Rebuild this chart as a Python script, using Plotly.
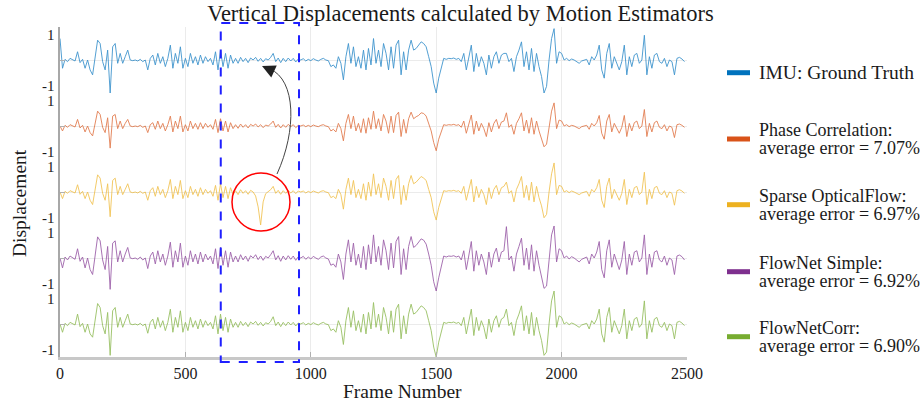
import plotly.graph_objects as go
from plotly.subplots import make_subplots

FRAMES = list(range(0, 2500, 10))

IMU = [0.65, -0.25, 0.02, -0.05, 0.05, 0.0, -0.03, 0.25, -0.08, 0.02,
       -0.25, 0.0, -0.3, -0.45, 0.05, 0.6, 0.5, -0.05, -0.3, 0.3,
       -1.0, 0.4, 0.5, -0.1, 0.2, -0.1, 0.1, 0.3, 0.0, -0.02,
       0.0, -0.03, 0.02, -0.05, 0.0, -0.3, 0.05, 0.15, -0.15, 0.2,
       -0.1, 0.1, -0.2, 0.05, 0.45, -0.25, 0.2, -0.1, 0.4, -0.25,
       0.05, -0.2, 0.2, -0.1, 0.1, -0.15, 0.15, -0.1, 0.1, -0.05,
       0.05, -0.15, 0.25, -0.3, 0.3, -0.2, 0.2, -0.25, 0.15, -0.1,
       0.05, -0.1, 0.08, -0.05, 0.05, -0.08, 0.06, 0.0, 0.08, -0.04,
       0.05, -0.06, 0.04, 0.0, 0.08, 0.2, -0.05, 0.06, -0.08, 0.05,
       -0.05, 0.06, -0.03, 0.05, -0.06, 0.03, 0.0, 0.04, -0.03, 0.02,
       -0.02, 0.04, 0.0, -0.03, 0.02, 0.05, 0.0, -0.02, -0.2, -0.15,
       -0.25, 0.1, -0.1, -0.6, 0.1, 0.5, -0.1, 0.4, -0.2, 0.1,
       -0.25, 0.3, -0.3, 0.35, -0.15, 0.65, -0.1, 0.3, -0.2, 0.5,
       0.2, -0.3, 0.4, -0.25, 0.45, 0.6, -0.45, 0.25, -0.3, 0.3,
       0.6, 0.3, 0.35, 0.45, 0.55, 0.5, 0.4, 0.1, -0.2, -0.7,
       -1.0, -0.55, -0.2, 0.05, 0.02, 0.05, 0.04, 0.06, 0.02, 0.05,
       -0.05, 0.2, -0.3, 0.1, 0.45, -0.35, 0.2, -0.2, 0.1, -0.1,
       -0.45, 0.15, -0.25, 0.1, 0.25, -0.1, 0.15, 0.2, 0.2, -0.05,
       0.05, -0.35, 0.1, 0.3, 0.55, -0.2, 0.25, -0.3, 0.35, -0.35,
       0.2, -0.2, -0.5, -1.0, -0.8, 0.0, 0.65, 0.95, -0.1, 0.25,
       0.2, 0.0, 0.05, -0.02, 0.03, 0.0, -0.05, -0.1, -0.03, 0.0,
       0.02, -0.15, 0.1, 0.0, 0.15, 0.45, -0.3, -0.55, 0.2, 0.5,
       -0.25, 0.1, -0.1, -0.3, -0.05, 0.45, -0.45, 0.1, -0.2, 0.15,
       0.2, -0.1, 0.0, 0.75, -0.45, 0.1, -0.25, 0.15, 0.2, -0.05,
       -0.1, 0.05, -0.2, 0.0, -0.05, -0.45, 0.05, 0.08, 0.03, -0.05]

PHASE_CORR = [0.0, -0.15, 0.02, -0.04, 0.04, 0.0, -0.03, 0.2, -0.06, 0.02,
              -0.18, 0.0, -0.2, -0.3, 0.03, 0.45, 0.35, -0.04, -0.2, 0.25,
              -0.67, 0.3, 0.35, -0.08, 0.15, -0.08, 0.08, 0.2, 0.0, -0.02,
              0.0, -0.02, 0.02, -0.04, 0.0, -0.2, 0.04, 0.1, -0.1, 0.15,
              -0.08, 0.08, -0.15, 0.04, 0.3, -0.18, 0.15, -0.08, 0.3, -0.18,
              0.04, -0.15, 0.15, -0.08, 0.08, -0.1, 0.1, -0.08, 0.08, -0.04,
              0.04, -0.1, 0.2, -0.2, 0.22, -0.15, 0.15, -0.18, 0.1, -0.08,
              0.04, -0.07, 0.06, -0.04, 0.04, -0.06, 0.05, 0.0, 0.06, -0.03,
              0.04, -0.05, 0.03, 0.0, 0.06, 0.15, -0.04, 0.05, -0.06, 0.04,
              -0.04, 0.05, -0.02, 0.04, -0.05, 0.02, 0.0, 0.03, -0.02, 0.02,
              -0.02, 0.03, 0.0, -0.02, 0.02, 0.04, 0.0, -0.02, -0.15, -0.1,
              -0.18, 0.08, -0.08, -0.45, 0.08, 0.35, -0.08, 0.3, -0.15, 0.08,
              -0.2, 0.22, -0.22, 0.25, -0.1, 0.45, -0.08, 0.22, -0.15, 0.35,
              0.15, -0.22, 0.3, -0.2, 0.32, 0.42, -0.32, 0.2, -0.22, 0.22,
              0.42, 0.22, 0.28, 0.32, 0.4, 0.38, 0.3, 0.08, -0.15, -0.5,
              -0.75, -0.4, -0.15, 0.04, 0.02, 0.04, 0.03, 0.05, 0.02, 0.04,
              -0.04, 0.15, -0.22, 0.08, 0.33, -0.25, 0.15, -0.15, 0.08, -0.08,
              -0.32, 0.1, -0.18, 0.08, 0.2, -0.08, 0.12, 0.15, 0.4, -0.04,
              0.04, -0.25, 0.08, 0.22, 0.4, -0.15, 0.18, -0.22, 0.25, -0.25,
              0.15, -0.15, -0.38, -0.63, -0.55, 0.0, 0.45, 0.7, -0.08, 0.18,
              0.15, 0.0, 0.04, -0.02, 0.02, 0.0, -0.04, -0.08, -0.02, 0.0,
              0.02, -0.1, 0.08, 0.0, 0.1, 0.32, -0.22, -0.4, 0.15, 0.35,
              -0.18, 0.08, -0.08, -0.22, -0.04, 0.32, -0.32, 0.08, -0.15, 0.1,
              0.15, -0.08, 0.0, 0.5, -0.32, 0.08, -0.18, 0.1, 0.15, -0.04,
              -0.08, 0.04, -0.15, 0.0, -0.04, -0.35, 0.04, 0.06, 0.02, -0.04]

SPARSE_OF = [0.0, -0.2, 0.02, -0.04, 0.04, 0.0, -0.03, 0.22, -0.07, 0.02,
             -0.2, 0.0, -0.25, -0.38, 0.04, 0.52, 0.42, -0.04, -0.25, 0.25,
             -0.75, 0.35, 0.42, -0.08, 0.17, -0.08, 0.08, 0.25, 0.0, -0.02,
             0.0, -0.03, 0.02, -0.04, 0.0, -0.25, 0.04, 0.13, -0.13, 0.17,
             -0.08, 0.08, -0.17, 0.04, 0.38, -0.2, 0.17, -0.08, 0.35, -0.2,
             0.04, -0.17, 0.17, -0.08, 0.08, -0.13, 0.13, -0.08, 0.08, -0.04,
             0.04, -0.13, 0.2, -0.25, 0.25, -0.17, 0.17, -0.2, 0.13, -0.08,
             0.04, -0.08, 0.07, -0.04, 0.04, -0.07, 0.05, 0.0, -0.12, -0.45,
             -1.0, -0.3, -0.05, 0.0, 0.07, 0.17, -0.04, 0.05, -0.07, 0.04,
             -0.04, 0.05, -0.03, 0.04, -0.05, 0.03, 0.0, 0.03, -0.03, 0.02,
             -0.02, 0.03, 0.0, -0.03, 0.02, 0.04, 0.0, -0.02, -0.17, -0.13,
             -0.2, 0.08, -0.08, -0.52, 0.08, 0.42, -0.08, 0.35, -0.17, 0.08,
             -0.2, 0.25, -0.25, 0.3, -0.13, 0.55, -0.08, 0.25, -0.17, 0.42,
             0.17, -0.25, 0.35, -0.2, 0.38, 0.5, -0.38, 0.2, -0.25, 0.25,
             0.5, 0.25, 0.3, 0.38, 0.47, 0.42, 0.35, 0.08, -0.17, -0.6,
             -0.85, -0.47, -0.17, 0.04, 0.02, 0.04, 0.03, 0.05, 0.02, 0.04,
             -0.04, 0.17, -0.25, 0.08, 0.38, -0.3, 0.17, -0.17, 0.08, -0.08,
             -0.38, 0.13, -0.2, 0.08, 0.2, -0.08, 0.13, 0.17, 0.3, -0.04,
             0.04, -0.3, 0.08, 0.25, 0.47, -0.17, 0.2, -0.25, 0.3, -0.3,
             0.17, -0.17, -0.42, -0.78, -0.68, 0.0, 0.55, 0.88, -0.08, 0.2,
             0.17, 0.0, 0.04, -0.02, 0.03, 0.0, -0.04, -0.08, -0.03, 0.0,
             0.02, -0.13, 0.08, 0.0, 0.13, 0.38, -0.25, -0.47, 0.17, 0.42,
             -0.2, 0.08, -0.08, -0.25, -0.04, 0.38, -0.38, 0.08, -0.17, 0.13,
             0.17, -0.08, 0.0, 0.6, -0.38, 0.08, -0.2, 0.13, 0.17, -0.04,
             -0.08, 0.04, -0.17, 0.0, -0.04, -0.4, 0.04, 0.07, 0.03, -0.04]

FLOWNET_S = [0.0, -0.3, 0.03, -0.06, 0.06, 0.0, -0.04, 0.28, -0.1, 0.03,
             -0.3, 0.0, -0.35, -0.5, 0.06, 0.64, 0.52, -0.06, -0.35, 0.35,
             -0.95, 0.45, 0.52, -0.12, 0.22, -0.12, 0.12, 0.32, 0.0, -0.02,
             0.0, -0.04, 0.03, -0.06, 0.0, -0.32, 0.06, 0.18, -0.18, 0.22,
             -0.12, 0.12, -0.22, 0.06, 0.48, -0.28, 0.22, -0.12, 0.45, -0.28,
             0.06, -0.22, 0.22, -0.12, 0.12, -0.18, 0.18, -0.12, 0.12, -0.06,
             0.06, -0.18, 0.28, -0.32, 0.32, -0.22, 0.22, -0.28, 0.18, -0.12,
             0.06, -0.12, 0.1, -0.06, 0.06, -0.1, 0.07, 0.0, 0.1, -0.05,
             0.06, -0.07, 0.05, 0.0, 0.1, 0.22, -0.06, 0.07, -0.1, 0.06,
             -0.06, 0.07, -0.04, 0.06, -0.07, 0.04, 0.0, 0.05, -0.04, 0.03,
             -0.03, 0.05, 0.0, -0.04, 0.03, 0.06, 0.0, -0.03, -0.22, -0.18,
             -0.28, 0.12, -0.12, -0.65, 0.12, 0.55, -0.12, 0.45, -0.22, 0.12,
             -0.3, 0.35, -0.35, 0.4, -0.18, 0.7, -0.12, 0.35, -0.22, 0.55,
             0.22, -0.35, 0.45, -0.3, 0.5, 0.65, -0.5, 0.28, -0.35, 0.35,
             0.65, 0.32, 0.38, 0.48, 0.58, 0.54, 0.42, 0.12, -0.22, -0.72,
             -1.0, -0.6, -0.22, 0.06, 0.03, 0.06, 0.05, 0.07, 0.03, 0.06,
             -0.06, 0.22, -0.35, 0.12, 0.5, -0.4, 0.22, -0.22, 0.12, -0.12,
             -0.5, 0.18, -0.28, 0.12, 0.3, -0.12, 0.18, 0.22, 0.95, -0.06,
             0.06, -0.4, 0.12, 0.35, 0.6, -0.22, 0.3, -0.35, 0.4, -0.4,
             0.22, -0.22, -0.55, -0.92, -0.85, 0.0, 0.7, 0.97, -0.12, 0.28,
             0.22, 0.0, 0.06, -0.03, 0.04, 0.0, -0.06, -0.12, -0.04, 0.0,
             0.03, -0.18, 0.12, 0.0, 0.18, 0.5, -0.35, -0.6, 0.22, 0.55,
             -0.28, 0.12, -0.12, -0.35, -0.06, 0.5, -0.5, 0.12, -0.22, 0.18,
             0.22, -0.12, 0.0, 0.7, -0.5, 0.12, -0.28, 0.18, 0.22, -0.06,
             -0.12, 0.06, -0.22, 0.0, -0.06, -0.5, 0.06, 0.09, 0.04, -0.06]

FLOWNET_C = [0.0, -0.25, 0.02, -0.05, 0.05, 0.0, -0.03, 0.3, -0.08, 0.02,
             -0.25, 0.0, -0.3, -0.4, 0.05, 0.62, 0.5, -0.05, -0.3, 0.35,
             -0.95, 0.4, 0.5, -0.1, 0.2, -0.1, 0.1, 0.3, 0.0, -0.02,
             0.0, -0.03, 0.02, -0.05, 0.0, -0.28, 0.05, 0.15, -0.15, 0.2,
             -0.1, 0.1, -0.2, 0.05, 0.45, -0.25, 0.2, -0.1, 0.4, -0.25,
             0.05, -0.2, 0.2, -0.1, 0.1, -0.15, 0.15, -0.1, 0.1, -0.05,
             0.05, -0.15, 0.25, -0.3, 0.3, -0.2, 0.2, -0.25, 0.15, -0.1,
             0.05, -0.1, 0.08, -0.05, 0.05, -0.08, 0.06, 0.0, 0.08, -0.04,
             0.05, -0.06, 0.04, 0.0, 0.08, 0.22, -0.05, 0.06, -0.08, 0.05,
             -0.05, 0.06, -0.03, 0.05, -0.06, 0.03, 0.0, 0.04, -0.03, 0.02,
             -0.02, 0.04, 0.0, -0.03, 0.02, 0.05, 0.0, -0.02, -0.2, -0.15,
             -0.25, 0.1, -0.1, -0.62, 0.1, 0.5, -0.1, 0.4, -0.2, 0.1,
             -0.25, 0.3, -0.3, 0.35, -0.15, 0.65, -0.1, 0.3, -0.2, 0.5,
             0.2, -0.3, 0.4, -0.25, 0.45, 0.6, -0.45, 0.25, -0.3, 0.3,
             0.6, 0.3, 0.35, 0.45, 0.55, 0.5, 0.4, 0.1, -0.2, -0.7,
             -1.0, -0.55, -0.2, 0.05, 0.02, 0.05, 0.04, 0.06, 0.02, 0.05,
             -0.05, 0.2, -0.3, 0.1, 0.45, -0.35, 0.2, -0.2, 0.1, -0.1,
             -0.45, 0.15, -0.25, 0.1, 0.25, -0.1, 0.15, 0.2, 0.45, -0.05,
             0.05, -0.35, 0.1, 0.3, 0.55, -0.2, 0.25, -0.3, 0.35, -0.35,
             0.2, -0.2, -0.5, -0.95, -0.85, 0.0, 0.7, 1.0, -0.1, 0.25,
             0.2, 0.0, 0.05, -0.02, 0.03, 0.0, -0.05, -0.1, -0.03, 0.0,
             0.02, -0.15, 0.1, 0.0, 0.15, 0.45, -0.3, -0.55, 0.2, 0.5,
             -0.25, 0.1, -0.1, -0.3, -0.05, 0.45, -0.45, 0.1, -0.2, 0.15,
             0.2, -0.1, 0.0, 0.7, -0.45, 0.1, -0.25, 0.15, 0.2, -0.05,
             -0.1, 0.05, -0.2, 0.0, -0.05, -0.45, 0.05, 0.08, 0.03, -0.05]

SERIES = [IMU, PHASE_CORR, SPARSE_OF, FLOWNET_S, FLOWNET_C]
LEGEND_TEXT = [["IMU: Ground Truth"],
               ["Phase Correlation:", "average error = 7.07%"],
               ["Sparse OpticalFlow:", "average error = 6.97%"],
               ["FlowNet Simple:", "average error = 6.92%"],
               ["FlowNetCorr:", "average error = 6.90%"]]
COLORS = ["#0072BD", "#D95319", "#EDB120", "#7E2F8E", "#77AC30"]
X_TICKS = [0, 500, 1000, 1500, 2000, 2500]

W, H = 921, 402
L, R, T, B = 60, 687, 27, 357
FONT = "Liberation Serif"
TXT = "#1a1a1a"


def px(xp, yp):
    return (xp - L) / (R - L), (B - yp) / (B - T)


fig = make_subplots(rows=5, cols=1, shared_xaxes=True, vertical_spacing=0)

for i, (vals, col) in enumerate(zip(SERIES, COLORS)):
    fig.add_trace(go.Scatter(x=FRAMES[:len(vals)], y=vals, mode="lines",
                             name=LEGEND_TEXT[i][0].rstrip(":"),
                             line=dict(color=col, width=0.9), opacity=0.75,
                             showlegend=False, hoverinfo="skip"),
                  row=i + 1, col=1)

for i in range(5):
    fig.update_yaxes(range=[-1, 1], tickvals=[-1, 0, 1], showticklabels=False,
                     ticks="inside", ticklen=5, tickcolor="#b0b0b0",
                     showgrid=True, gridcolor="#ebebeb", gridwidth=1,
                     zeroline=False, showline=True, linecolor="#a8a8a8",
                     linewidth=1.5, row=i + 1, col=1)
    fig.update_xaxes(range=[0, 2500], tickvals=X_TICKS, showgrid=True,
                     gridcolor="#ebebeb", zeroline=False, row=i + 1, col=1)

fig.update_xaxes(showticklabels=True, ticks="inside", ticklen=5,
                 tickcolor="#b0b0b0", showline=True, linecolor="#c8c8c8",
                 linewidth=2.5, tickfont=dict(family=FONT, size=16, color=TXT),
                 row=5, col=1)

annotations = []
shapes = []

# y tick labels, nudged inward like the reference
for i in range(5):
    top = T + i * (B - T) / 5
    bot = T + (i + 1) * (B - T) / 5
    for val, ypx in (("1", top + 8), ("-1", bot - 7)):
        xp, yp = px(57, ypx)
        annotations.append(dict(x=xp, y=yp, xref="paper", yref="paper",
                                text=val, showarrow=False, xanchor="right",
                                yanchor="middle",
                                font=dict(family=FONT, size=15, color=TXT)))

xp, yp = px(402, 391)
annotations.append(dict(x=xp, y=yp, xref="paper", yref="paper",
                        text="Frame Number", showarrow=False,
                        xanchor="center", yanchor="middle",
                        font=dict(family=FONT, size=19.5, color=TXT)))
xp, yp = px(19, 203)
annotations.append(dict(x=xp, y=yp, xref="paper", yref="paper",
                        text="Displacement", showarrow=False, textangle=-90,
                        xanchor="center", yanchor="middle",
                        font=dict(family=FONT, size=19.5, color=TXT)))

# legend: swatches and labels
swatch_y = [72.7, 139, 204.7, 271.7, 336.7]
for k, (col, sy, lines) in enumerate(zip(COLORS, swatch_y, LEGEND_TEXT)):
    sx0, syp = px(727, sy)
    sx1, _ = px(750, sy)
    shapes.append(dict(type="line", xref="paper", yref="paper", x0=sx0, x1=sx1,
                       y0=syp, y1=syp, line=dict(color=col, width=5)))
    if len(lines) == 1:
        offs = [0]
        size = 19.5
    else:
        offs = [-9, 9]
        size = 18
    for text, off in zip(lines, offs):
        tx, ty = px(757, sy + off)
        annotations.append(dict(x=tx, y=ty, xref="paper", yref="paper",
                                text=text, showarrow=False, xanchor="left",
                                yanchor="middle",
                                font=dict(family=FONT, size=size, color=TXT)))

# arrow head
hx, hy = px(262, 66)
annotations.append(dict(x=hx, y=hy, xref="paper", yref="paper", text="",
                        showarrow=True, ax=11, ay=5, arrowhead=2,
                        arrowsize=2.4, arrowwidth=1.1, arrowcolor="#222"))

# dashed highlight box
y0 = px(0, 362)[1]
y1 = px(0, 23)[1]
shapes.append(dict(type="rect", xref="x", yref="paper", x0=641, x1=953,
                   y0=y0, y1=y1, line=dict(color="#1f1fff", width=2, dash="dash"),
                   fillcolor="rgba(0,0,0,0)", layer="above"))
# red circle
cx0, cy0 = px(232, 231)
cx1, cy1 = px(290, 173)
shapes.append(dict(type="circle", xref="paper", yref="paper", x0=cx0, x1=cx1,
                   y0=cy0, y1=cy1, line=dict(color="#ff0000", width=1.5)))
# curved connector
pts = [px(277, 174), px(297, 130), px(296, 80), px(270, 69)]
path = "M {:.4f},{:.4f} C {:.4f},{:.4f} {:.4f},{:.4f} {:.4f},{:.4f}".format(
    pts[0][0], pts[0][1], pts[1][0], pts[1][1], pts[2][0], pts[2][1],
    pts[3][0], pts[3][1])
shapes.append(dict(type="path", xref="paper", yref="paper", path=path,
                   line=dict(color="#444", width=1)))

fig.update_layout(
    width=W, height=H,
    margin=dict(l=L, r=W - R, t=T, b=H - B),
    paper_bgcolor="white", plot_bgcolor="white",
    showlegend=False,
    title=dict(text="Vertical Displacements calculated by Motion Estimators",
               x=0.5, xanchor="center", y=1 - 13 / H, yanchor="middle",
               font=dict(family=FONT, size=22.5, color=TXT)),
    annotations=annotations, shapes=shapes,
)

fig.write_html("out.html", config={"displayModeBar": False},
               post_script="document.body.style.margin='0';")
